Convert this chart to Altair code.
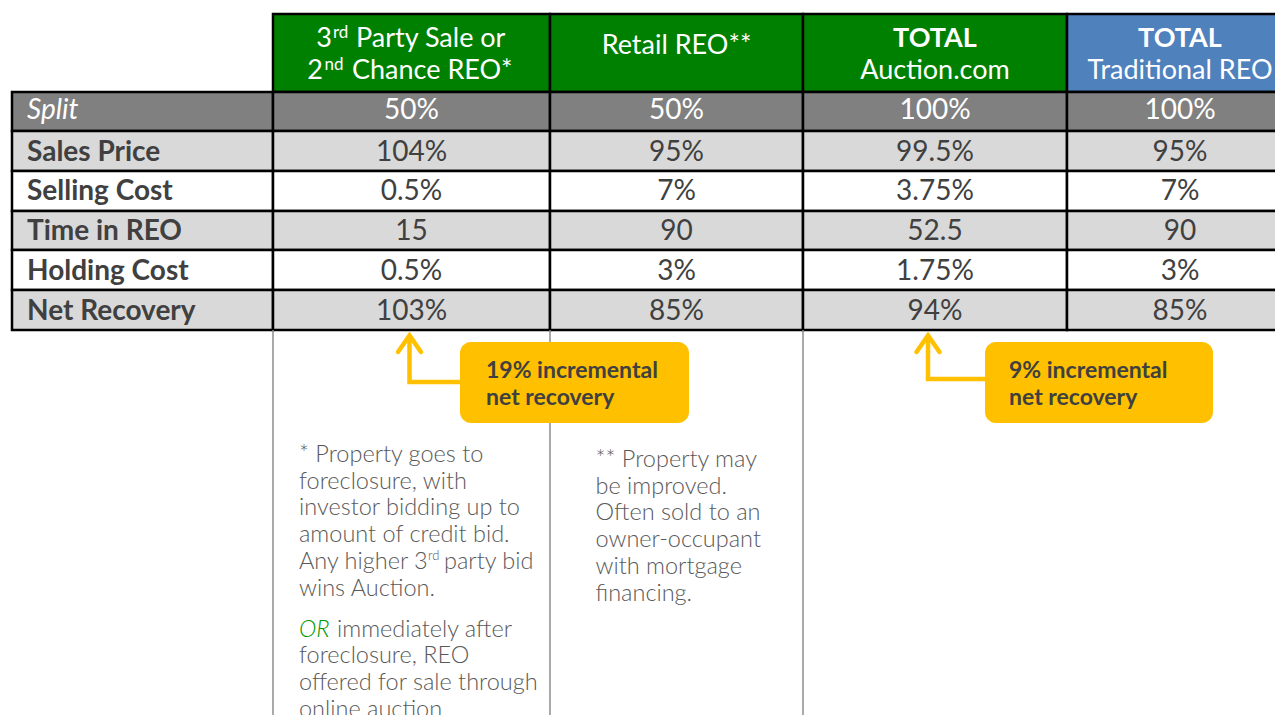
import altair as alt
import pandas as pd

# ---------------- data ----------------
row_labels = ["Split", "Sales Price", "Selling Cost", "Time in REO", "Holding Cost", "Net Recovery"]
third_party_sale = ["50%", "104%", "0.5%", "15", "0.5%", "103%"]
retail_reo = ["50%", "95%", "7%", "90", "3%", "85%"]
total_auction = ["100%", "99.5%", "3.75%", "52.5", "1.75%", "94%"]
total_traditional = ["100%", "95%", "7%", "90", "3%", "85%"]
value_columns = [third_party_sale, retail_reo, total_auction, total_traditional]

callout_lines = [["19% incremental", "net recovery"], ["9% incremental", "net recovery"]]

note_auction = ["* Property goes to", "foreclosure, with", "investor bidding up to",
                "amount of credit bid.", "Any higher 3", "wins Auction."]
note_auction_or = ["immediately after", "foreclosure, REO", "offered for sale through", "online auction"]
note_retail = ["** Property may", "be improved.", "Often sold to an", "owner-occupant",
               "with mortgage", "financing."]

# ---------------- layout (reference pixel frame) ----------------
col_edges = [12, 273, 550, 803, 1067, 1293]
col_centers = [411.5, 676.5, 935, 1180]
row_edges = [14, 92, 131, 171, 211, 250, 290, 330]
row_baselines = [119, 160.5, 200, 239.5, 279.5, 319.5]
header_fill = ["#008000", "#008000", "#008000", "#4F81BD"]
row_fill = ["#808080", "#D9D9D9", "#FFFFFF", "#D9D9D9", "#FFFFFF", "#D9D9D9"]
DARK = "#404040"
NOTE = "#595959"
YELLOW = "#FFC000"
FONT = "Lato"

xs = alt.Scale(domain=[8, 1275], nice=False, zero=False)
ys = alt.Scale(domain=[8, 715], nice=False, zero=False, reverse=True)
X = alt.X("x:Q", scale=xs, axis=None)
Y = alt.Y("y:Q", scale=ys, axis=None)

# ---------------- cells ----------------
cells = []
for i in range(4):
    cells.append(dict(x=col_edges[i + 1], x2=col_edges[i + 2], y=row_edges[0], y2=row_edges[1], fill=header_fill[i]))
for r in range(6):
    for c in range(5):
        cells.append(dict(x=col_edges[c], x2=col_edges[c + 1], y=row_edges[r + 1], y2=row_edges[r + 2], fill=row_fill[r]))
cells_df = pd.DataFrame(cells)
cell_layer = alt.Chart(cells_df).mark_rect(stroke="black", strokeWidth=2.5).encode(
    x=X, x2="x2:Q", y=Y, y2="y2:Q", fill=alt.Fill("fill:N", scale=None))

# guide lines below the table
guides_df = pd.DataFrame(dict(x=[273, 550, 803], y=[330] * 3, y2=[715] * 3))
guide_layer = alt.Chart(guides_df).mark_rule(color="#8C8C8C", strokeWidth=1.5).encode(x=X, y=Y, y2="y2:Q")

# callout boxes
boxes_df = pd.DataFrame(dict(x=[460, 985], x2=[689, 1213], y=[342, 342], y2=[423, 423]))
box_layer = alt.Chart(boxes_df).mark_rect(fill=YELLOW, cornerRadius=11).encode(x=X, x2="x2:Q", y=Y, y2="y2:Q")

# arrows
arrow_pts = []
for aid, (bx, vx, hy) in enumerate([(462, 409.5, 382), (987, 928, 379)]):
    for k, (px, py) in enumerate([(bx, hy), (vx, hy), (vx, 337)]):
        arrow_pts.append(dict(id=f"s{aid}", seq=k, x=px, y=py))
    for k, (px, py) in enumerate([(vx - 11.5, 352), (vx, 335.5), (vx + 11.5, 352)]):
        arrow_pts.append(dict(id=f"h{aid}", seq=k, x=px, y=py))
arrow_df = pd.DataFrame(arrow_pts)
arrow_layer = alt.Chart(arrow_df).mark_line(color=YELLOW, strokeWidth=4.5, strokeCap="round",
                                              strokeJoin="miter").encode(
    x=X, y=Y, detail="id:N", order="seq:Q")


def text_layer(rows, **kw):
    df = pd.DataFrame(rows)
    return alt.Chart(df).mark_text(font=FONT, baseline="alphabetic", **kw).encode(
        x=X, y=Y, text="text:N", color=alt.Color("color:N", scale=None))


layers = [cell_layer, guide_layer, box_layer, arrow_layer]

# header texts
layers.append(text_layer([dict(x=332, y=46.7, text="3", color="white"),
                          dict(x=323, y=79, text="2", color="white")], align="right", fontSize=27))
layers.append(text_layer([dict(x=333, y=37.5, text="rd", color="white"),
                          dict(x=324.5, y=69.5, text="nd", color="white")], align="left", fontSize=17))
layers.append(text_layer([dict(x=356, y=46.7, text="Party Sale or", color="white"),
                          dict(x=352, y=79, text="Chance REO*", color="white")], align="left", fontSize=27))
layers.append(text_layer([dict(x=col_centers[1], y=54.3, text="Retail REO**", color="white"),
                          dict(x=col_centers[2], y=79, text="Auction.com", color="white"),
                          dict(x=col_centers[3], y=79, text="Traditional REO", color="white")],
                         align="center", fontSize=27))
layers.append(text_layer([dict(x=col_centers[2], y=46.7, text="TOTAL", color="white"),
                          dict(x=col_centers[3], y=46.7, text="TOTAL", color="white")],
                         align="center", fontSize=27, fontWeight="bold"))

# row labels
layers.append(text_layer([dict(x=27, y=row_baselines[0], text=row_labels[0], color="white")],
                         align="left", fontSize=28, fontStyle="italic"))
layers.append(text_layer([dict(x=27, y=row_baselines[r], text=row_labels[r], color=DARK) for r in range(1, 6)],
                         align="left", fontSize=28, fontWeight="bold"))

# values
vals = []
for c in range(4):
    for r in range(6):
        vals.append(dict(x=col_centers[c], y=row_baselines[r], text=value_columns[c][r],
                         color="white" if r == 0 else DARK))
layers.append(text_layer(vals, align="center", fontSize=28))

# callout texts
ctext = []
for bx, lines in zip([486, 1009], callout_lines):
    for yy, t in zip([378.3, 405], lines):
        ctext.append(dict(x=bx, y=yy, text=t, color=DARK))
layers.append(text_layer(ctext, align="left", fontSize=23, fontWeight="bold"))

# notes
note_rows = []
for yy, t in zip([461.7, 488.5, 515.3, 542, 568.8, 595.5], note_auction):
    note_rows.append(dict(x=299, y=yy, text=t, color=NOTE))
note_rows.append(dict(x=444, y=568.8, text="party bid", color=NOTE))
note_rows.append(dict(x=337, y=636.7, text=note_auction_or[0], color=NOTE))
for yy, t in zip([663.4, 690.1, 716.8], note_auction_or[1:]):
    note_rows.append(dict(x=299, y=yy, text=t, color=NOTE))
for yy, t in zip([466.7, 493.5, 520.3, 547.1, 573.9, 600.7], note_retail):
    note_rows.append(dict(x=595.5, y=yy, text=t, color=NOTE))
layers.append(text_layer(note_rows, align="left", fontSize=23.5, fontWeight=300))
layers.append(text_layer([dict(x=428, y=560, text="rd", color=NOTE)], align="left", fontSize=13, fontWeight=300))
layers.append(text_layer([dict(x=299, y=636.7, text="OR", color="#009900")], align="left", fontSize=23.5,
                         fontWeight=300, fontStyle="italic"))

chart = alt.layer(*layers).properties(
    width=1267, height=707, padding=0,
    autosize=alt.AutoSizeParams(type="none"),
    background="white",
).configure_view(stroke=None)

chart.save("out.html", embed_options={"renderer": "svg", "actions": False})
